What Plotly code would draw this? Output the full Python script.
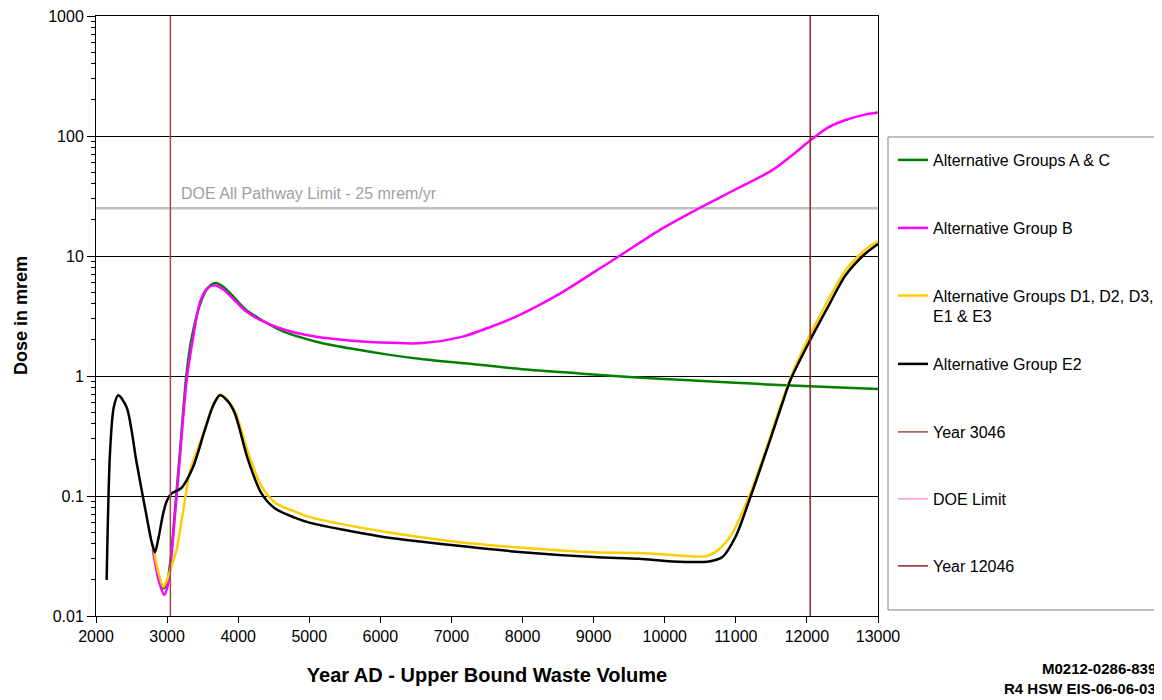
import plotly.graph_objects as go

# ---------------- data ----------------
YEAR_AC = [2800, 2880, 2950, 3000, 3050, 3110, 3180, 3270, 3340, 3460, 3560, 3680, 3800,
           3930, 4100, 4300, 4631, 5099, 5567, 6130, 6600, 7393, 8000, 8798, 9500,
           10202, 11000, 11607, 12300, 13000]
DOSE_AC = [0.036, 0.022, 0.017, 0.019, 0.030, 0.075, 0.23, 1.0, 2.0, 3.9, 5.3, 5.95, 5.5,
           4.6, 3.6, 3.0, 2.35, 1.93, 1.70, 1.50, 1.38, 1.24, 1.14, 1.05, 0.98,
           0.93, 0.88, 0.84, 0.81, 0.78]

YEAR_B = [2800, 2880, 2960, 3010, 3050, 3110, 3180, 3273, 3367, 3461, 3555, 3670, 3800,
          3930, 4100, 4300, 4631, 5099, 5567, 6000, 6600, 7160, 7500, 7861, 8200,
          8563, 9000, 9383, 9968, 10483, 11000, 11513, 11841, 12028, 12300, 12543, 12800, 13000]
DOSE_B = [0.036, 0.020, 0.015, 0.018, 0.027, 0.068, 0.21, 0.9, 2.1, 4.1, 5.3, 5.7, 5.2,
          4.4, 3.5, 2.95, 2.45, 2.12, 1.98, 1.9, 1.88, 2.13, 2.5, 3.03, 3.8,
          5.0, 7.3, 10.2, 17.0, 25.0, 36.0, 52.0, 73.0, 90.0, 118.0, 136.0, 150.0, 157.0]

YEAR_D = [2800, 2870, 2946, 3000, 3060, 3130, 3226, 3320, 3400, 3531, 3650, 3750, 3850,
          3960, 4140, 4330, 4520, 4800, 5000, 6000, 7000, 8000, 9000, 9640, 10200,
          10580, 10764, 10951, 11185, 11419, 11607, 11794, 12028, 12300, 12543, 12800, 13000]
DOSE_D = [0.040, 0.024, 0.0175, 0.020, 0.026, 0.035, 0.075, 0.16, 0.22, 0.36, 0.58, 0.70, 0.63,
          0.50, 0.23, 0.12, 0.088, 0.074, 0.067, 0.051, 0.042, 0.037, 0.034, 0.0335, 0.032,
          0.0315, 0.036, 0.049, 0.099, 0.24, 0.52, 1.05, 2.1, 4.3, 7.6, 11.0, 13.3]

YEAR_E2 = [2150, 2197, 2250, 2313, 2431, 2571, 2711, 2780, 2829, 2880, 2946, 3000, 3063,
           3204, 3367, 3531, 3650, 3742, 3850, 3952, 4139, 4327, 4514, 4795, 5000, 6000,
           7000, 8000, 9000, 9640, 10108, 10624, 10811, 10998, 11208, 11466, 11653, 11770,
           12028, 12300, 12543, 12800, 13000]
DOSE_E2 = [0.020, 0.23, 0.55, 0.69, 0.55, 0.19, 0.068, 0.042, 0.034, 0.045, 0.072, 0.092, 0.105,
           0.117, 0.175, 0.355, 0.57, 0.69, 0.62, 0.49, 0.20, 0.105, 0.079, 0.066, 0.060, 0.046,
           0.039, 0.034, 0.031, 0.030, 0.0285, 0.0285, 0.031, 0.046, 0.099, 0.275, 0.59, 0.93,
           1.9, 3.8, 6.9, 10.2, 12.6]

X_RANGE = [2000, 13000]
YEAR_3046 = 3046
YEAR_12046 = 12046
DOE_LIMIT = 25
Y_TICKS = [0.01, 0.1, 1, 10, 100, 1000]
Y_TICK_TEXT = ["0.01", "0.1", "1", "10", "100", "1000"]

LEGEND_NAMES = ["Alternative Groups A & C", "Alternative Group B",
                "Alternative Groups D1, D2, D3,<br>E1 & E3", "Alternative Group E2",
                "Year 3046", "DOE Limit", "Year 12046"]

# ---------------- layout helpers ----------------
# The page body has an 8px margin, so the figure is drawn 8px in from the window corner.
OFF = 8
FONT = "Arial, Liberation Sans, sans-serif"
W, H = 1162 - OFF, 700 - OFF
L, T = 96 - OFF, 16 - OFF
PW, PH = 782, 600
R = W - L - PW
B = H - T - PH


def px_x(p):  # window pixel -> paper x
    return (p - OFF - L) / PW


def px_y(p):  # window pixel -> paper y
    return (T + PH - (p - OFF)) / PH


fig = go.Figure()

# DOE limit: pink legend entry, gray line drawn on top
fig.add_trace(go.Scatter(x=X_RANGE, y=[DOE_LIMIT, DOE_LIMIT], mode="lines",
                         line=dict(color="#FF99CC", width=1.5), name=LEGEND_NAMES[5],
                         legend="legend6"))
fig.add_trace(go.Scatter(x=X_RANGE, y=[DOE_LIMIT, DOE_LIMIT], mode="lines",
                         line=dict(color="#C0C0C0", width=2.5), showlegend=False,
                         hoverinfo="skip"))

series = [
    (YEAR_AC, DOSE_AC, "#008000", LEGEND_NAMES[0], "legend"),
    (YEAR_B, DOSE_B, "#FF00FF", LEGEND_NAMES[1], "legend2"),
    (YEAR_D, DOSE_D, "#FFCC00", LEGEND_NAMES[2], "legend3"),
    (YEAR_E2, DOSE_E2, "#000000", LEGEND_NAMES[3], "legend4"),
]
for xs, ys, col, nm, lg in series:
    fig.add_trace(go.Scatter(x=xs, y=ys, mode="lines", name=nm, legend=lg,
                             line=dict(color=col, width=2.5, shape="spline", smoothing=0.8)))

fig.add_trace(go.Scatter(x=[YEAR_3046, YEAR_3046], y=[Y_TICKS[0], Y_TICKS[-1]], mode="lines",
                         line=dict(color="#A04A4A", width=1.5), name=LEGEND_NAMES[4],
                         legend="legend5"))
fig.add_trace(go.Scatter(x=[YEAR_12046, YEAR_12046], y=[Y_TICKS[0], Y_TICKS[-1]], mode="lines",
                         line=dict(color="#9A1E1E", width=1.5), name=LEGEND_NAMES[6],
                         legend="legend7"))

legend_y = [160, 228, 306, 364, 432, 499, 566]
legend_keys = ["legend", "legend2", "legend3", "legend4", "legend5", "legend6", "legend7"]
leg_layout = {}
for k, yy in zip(legend_keys, legend_y):
    leg_layout[k] = dict(x=px_x(893), xanchor="left", y=px_y(yy), yanchor="middle",
                         bgcolor="rgba(0,0,0,0)", borderwidth=0,
                         font=dict(family=FONT, size=16, color="black"),
                         valign="top", tracegroupgap=0, itemwidth=30)

fig.update_layout(
    width=W, height=H,
    margin=dict(l=L, r=R, t=T, b=B, pad=0, autoexpand=False),
    paper_bgcolor="white", plot_bgcolor="white",
    font=dict(family=FONT, size=15, color="black"),
    **leg_layout,
    xaxis=dict(range=X_RANGE, tick0=2000, dtick=1000, tickformat="d", ticks="outside",
               ticklen=6, automargin=False, ticklabeloverflow="allow",
               tickcolor="black", showline=True, linecolor="black", linewidth=1,
               mirror=True, showgrid=False, zeroline=False,
               tickfont=dict(family=FONT, size=16, color="black"),
               title=dict(text="<b>Year AD - Upper Bound Waste Volume</b>",
                          font=dict(family=FONT, size=20, color="black"), standoff=23)),
    yaxis=dict(type="log", range=[-2, 3], tickvals=Y_TICKS, ticktext=Y_TICK_TEXT,
               ticks="outside", ticklen=8, tickcolor="black", automargin=False,
               ticklabeloverflow="allow",
               showline=True, linecolor="black", linewidth=1, mirror=True,
               showgrid=True, gridcolor="black", gridwidth=1, zeroline=False,
               minor=dict(ticks="outside", ticklen=4, tickcolor="black", dtick="D1",
                          showgrid=False),
               tickfont=dict(family=FONT, size=16, color="black")),
    shapes=[dict(type="rect", xref="paper", yref="paper", x0=px_x(888), x1=px_x(1157),
                 y0=px_y(610), y1=px_y(137), line=dict(color="#808080", width=1),
                 fillcolor="rgba(0,0,0,0)", layer="above")],
    annotations=[
        dict(text="<b>Dose in mrem</b>", xref="paper", yref="paper",
             x=px_x(21), y=px_y(316), xanchor="center", yanchor="middle", showarrow=False,
             textangle=-90, font=dict(family=FONT, size=18, color="black")),
        dict(text="DOE All Pathway Limit - 25 mrem/yr", xref="paper", yref="paper",
             x=px_x(179), y=px_y(193), xanchor="left", yanchor="middle", showarrow=False,
             font=dict(family=FONT, size=16, color="#A0A0A0")),
        dict(text="<b>M0212-0286-839</b>", xref="paper", yref="paper",
             x=px_x(1158), y=px_y(668), xanchor="right", yanchor="middle", showarrow=False,
             font=dict(family=FONT, size=15, color="black")),
        dict(text="<b>R4 HSW EIS-06-06-03</b>", xref="paper", yref="paper",
             x=px_x(1158), y=px_y(688), xanchor="right", yanchor="middle", showarrow=False,
             font=dict(family=FONT, size=15, color="black")),
    ],
)

fig.write_html("out.html")
